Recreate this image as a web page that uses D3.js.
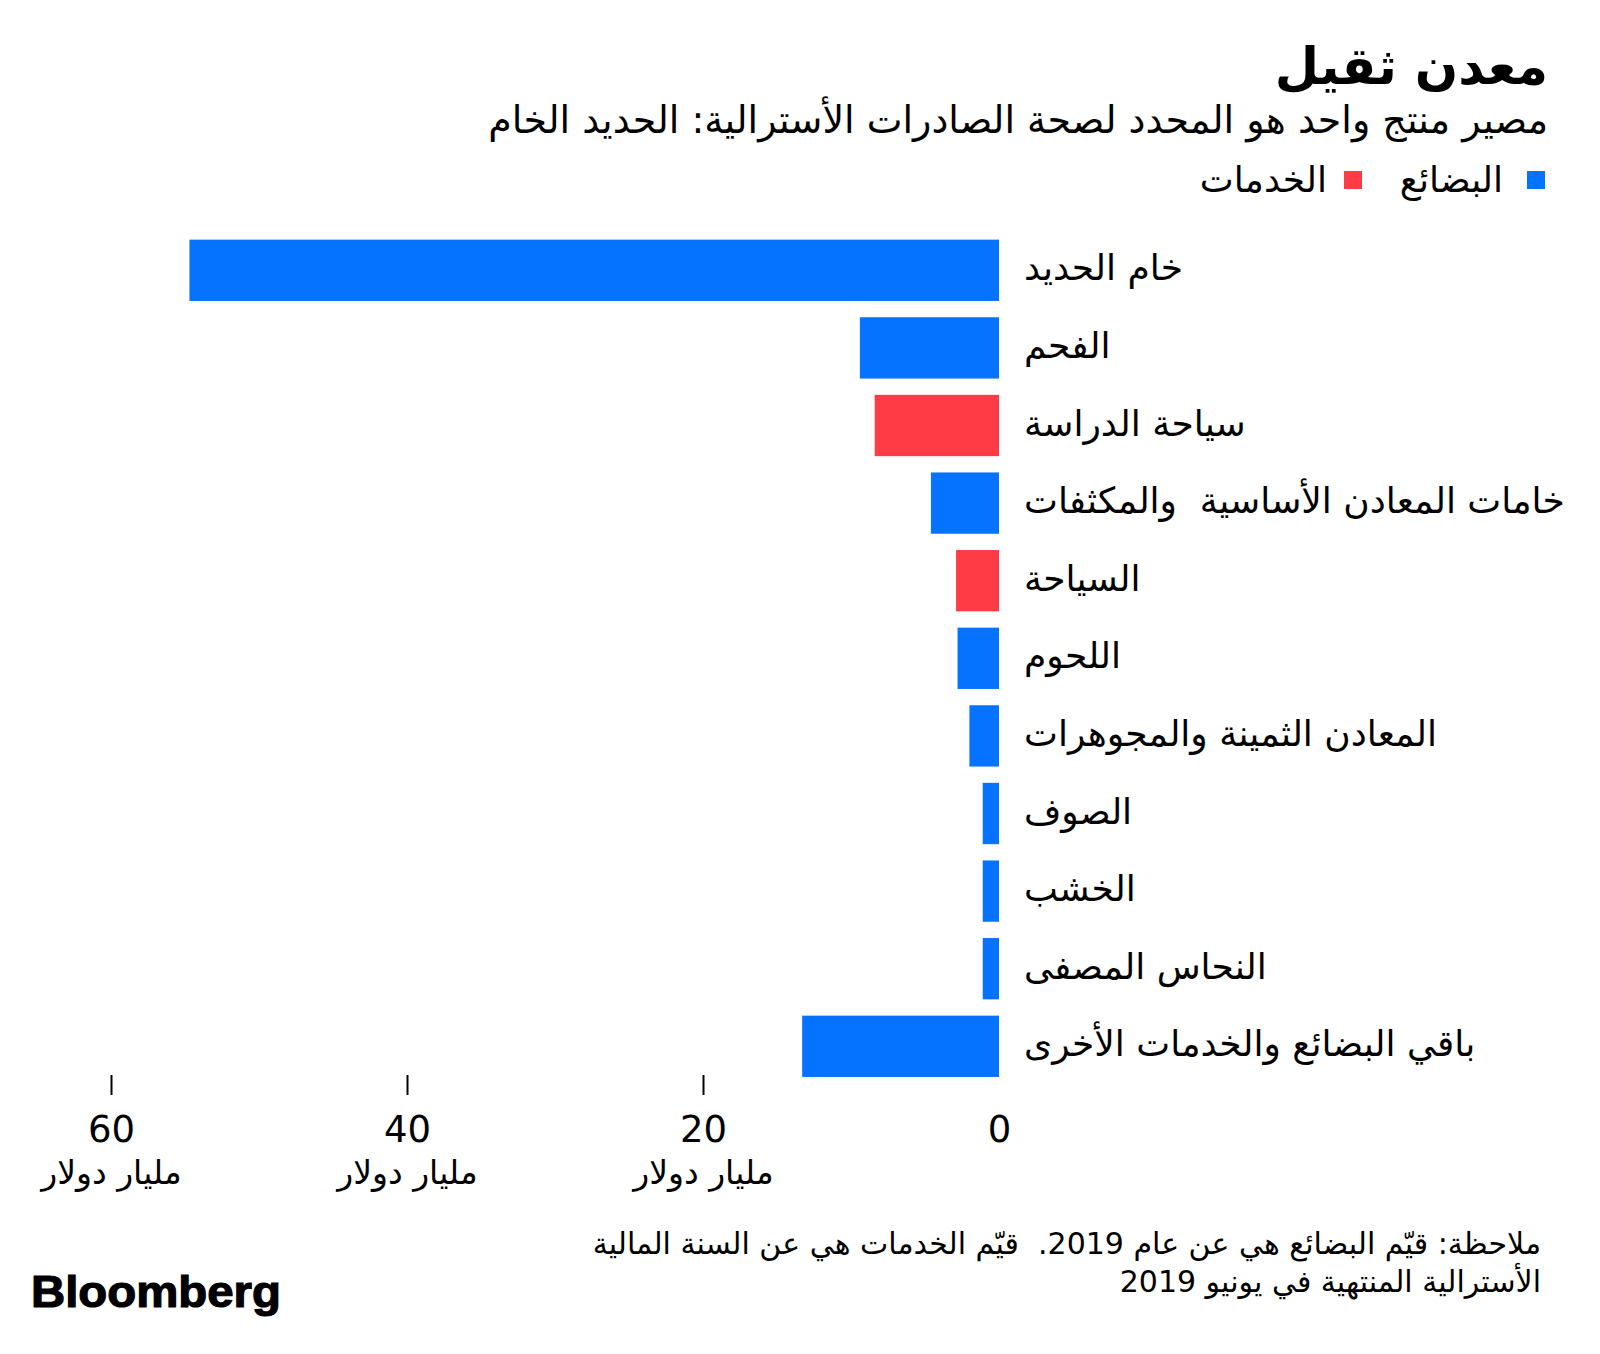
<!DOCTYPE html>
<html>
<head>
<meta charset="utf-8">
<script src="https://cdn.jsdelivr.net/npm/d3@7"></script>
<style>
  body { margin: 0; background: #fff; }
  svg { display: block; font-family: "DejaVu Sans", sans-serif; }
  .title { font-weight: bold; font-size: 51px; fill: #000; }
  .subtitle { font-size: 38px; fill: #000; }
  .legend text { font-size: 36px; fill: #000; }
  .cat { font-size: 36px; fill: #000; white-space: pre; }
  .axis text { font-size: 37px; fill: #000; font-family: "DejaVu Sans", sans-serif; }
  .axis text.unit { font-size: 33px; }
  .note { font-size: 30px; fill: #000; white-space: pre; }
  .logo { font-family: "Liberation Sans", Arial, sans-serif; font-weight: bold; font-size: 45px; fill: #000; stroke: #000; stroke-width: 1.2px; }
</style>
</head>
<body>
<div id="chart"></div>
<script>
// chart data (billion US$)
const categories = [
  'خام الحديد',
  'الفحم',
  'سياحة الدراسة',
  'خامات المعادن الأساسية  والمكثفات',
  'السياحة',
  'اللحوم',
  'المعادن الثمينة والمجوهرات',
  'الصوف',
  'الخشب',
  'النحاس المصفى',
  'باقي البضائع والخدمات الأخرى'
];
const values = [54.7, 9.4, 8.4, 4.6, 2.9, 2.8, 2.0, 1.1, 1.1, 1.1, 13.3];
const kinds = ['goods', 'goods', 'services', 'goods', 'services', 'goods', 'goods', 'goods', 'goods', 'goods', 'goods'];
const legendKeys = ['goods', 'services'];
const legendLabels = ['البضائع', 'الخدمات'];
const tickValues = [0, 20, 40, 60];
const unitLabel = 'مليار دولار';

const width = 1600, height = 1354;
const colorScale = d3.scaleOrdinal().domain(legendKeys).range(['#0573ff', '#ff3b46']);

const svg = d3.select('#chart').append('svg')
  .attr('width', width).attr('height', height);

// title block
svg.append('text').classed('title', true)
  .attr('x', 1548).attr('y', 84)
  .attr('direction', 'rtl').attr('text-anchor', 'start')
  .text('معدن ثقيل');
svg.append('text').classed('subtitle', true)
  .attr('x', 1548).attr('y', 133)
  .attr('direction', 'rtl').attr('text-anchor', 'start')
  .text('مصير منتج واحد هو المحدد لصحة الصادرات الأسترالية: الحديد الخام');

// legend
const legendX = [1545, 1362];
const legendGap = [42, 35];
const legend = svg.append('g').classed('legend', true)
  .selectAll('g').data(legendKeys).join('g')
  .attr('transform', (d, i) => `translate(${legendX[i]},171)`);
legend.append('rect').attr('x', -18).attr('y', 0).attr('width', 18).attr('height', 18)
  .attr('fill', d => colorScale(d));
legend.append('text').attr('x', (d, i) => -legendGap[i]).attr('y', 21)
  .attr('direction', 'rtl').attr('text-anchor', 'start')
  .text((d, i) => legendLabels[i]);

// scales
const x = d3.scaleLinear().domain([0, 60]).range([999, 111]);
const y = d3.scaleBand().domain(categories)
  .range([231.5, 231.5 + 77.6 * 11])
  .paddingInner(0.21).paddingOuter(0.105);

// bars
svg.append('g').selectAll('rect.bar').data(categories).join('rect')
  .classed('bar', true)
  .attr('x', (d, i) => x(values[i]))
  .attr('y', d => y(d))
  .attr('width', (d, i) => x(0) - x(values[i]))
  .attr('height', y.bandwidth())
  .attr('fill', (d, i) => colorScale(kinds[i]));

// category labels
svg.append('g').selectAll('text.cat').data(categories).join('text')
  .classed('cat', true)
  .attr('x', 1024)
  .attr('y', d => y(d) + y.bandwidth() / 2 + 10)
  .attr('direction', 'rtl').attr('text-anchor', 'end')
  .text(d => d);

// x axis
const axisG = svg.append('g').classed('axis', true)
  .attr('transform', 'translate(0,1075)')
  .call(d3.axisBottom(x).tickValues(tickValues).tickSize(20).tickFormat(d3.format('d')));
axisG.select('.domain').remove();
axisG.selectAll('.tick line')
  .attr('stroke', '#000').attr('stroke-width', 2)
  .attr('opacity', d => d === 0 ? 0 : 1);
axisG.selectAll('.tick text').attr('y', 67).attr('dy', 0).attr('fill', '#000');
axisG.selectAll('.tick').filter(d => d !== 0)
  .append('text').classed('unit', true)
  .attr('y', 109).attr('fill', '#000')
  .attr('direction', 'rtl').attr('text-anchor', 'middle')
  .text(unitLabel);

// note
const note = svg.append('g');
note.append('text').classed('note', true)
  .attr('x', 1541).attr('y', 1254)
  .attr('direction', 'rtl').attr('text-anchor', 'start')
  .text('ملاحظة: قيّم البضائع هي عن عام 2019.  قيّم الخدمات هي عن السنة المالية');
note.append('text').classed('note', true)
  .attr('x', 1541).attr('y', 1292)
  .attr('direction', 'rtl').attr('text-anchor', 'start')
  .text('الأسترالية المنتهية في يونيو 2019');

// logo
svg.append('text').classed('logo', true)
  .attr('x', 31).attr('y', 1307)
  .attr('textLength', 250).attr('lengthAdjust', 'spacingAndGlyphs')
  .text('Bloomberg');
</script>
</body>
</html>
